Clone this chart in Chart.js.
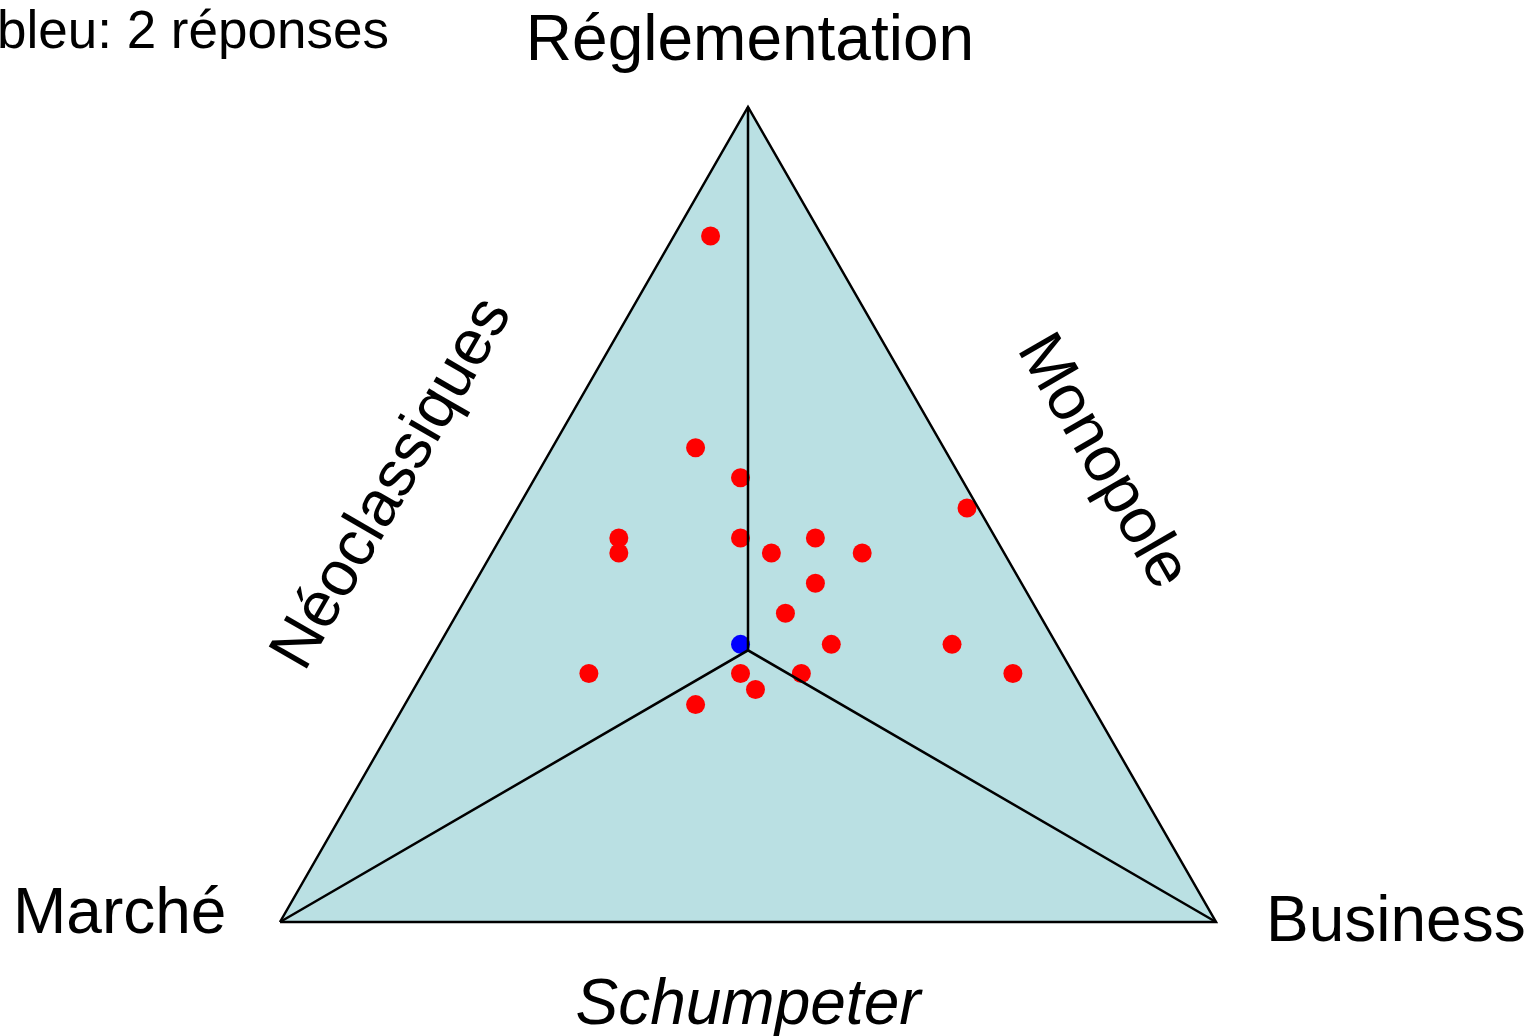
<!DOCTYPE html>
<html>
<head>
  <meta charset="UTF-8">
  <style>
    body { margin: 0; background: #fff; }
    #wrap { width: 1533px; height: 1036px; }
  </style>
  <script src="https://cdn.jsdelivr.net/npm/chart.js@4.4.0/dist/chart.umd.min.js"></script>
</head>
<body>
  <div id="wrap"><canvas id="myChart" width="1533" height="1036"></canvas></div>
  <script>
    // triangle: Marché (left), Business (right), Réglementation (top); x 0..100, y 0..86.6
    const vertices = [{x: 0, y: 0}, {x: 100, y: 0}, {x: 50, y: 86.6}];
    const center = {x: 50, y: 28.87};

    // answers
    const redX = [46.0, 44.4, 49.2, 73.4, 36.2, 36.2, 49.2, 52.5, 57.2, 62.2, 57.2, 54.0, 58.9, 71.8, 33.0, 49.2, 55.7, 78.3, 50.8, 44.4];
    const redY = [72.9, 50.4, 47.2, 44.0, 40.8, 39.2, 40.8, 39.2, 40.8, 39.2, 36.0, 32.8, 29.5, 29.5, 26.4, 26.4, 26.4, 26.4, 24.7, 23.1];
    const blueX = [49.2];
    const blueY = [29.5];

    const labels = {
      note: 'bleu: 2 réponses',
      top: 'Réglementation',
      left: 'Marché',
      right: 'Business',
      bottom: 'Schumpeter',
      leftSide: 'Néoclassiques',
      rightSide: 'Monopole'
    };

    function pts(xs, ys) {
      return xs.map(function(x, i) { return {x: x, y: ys[i]}; });
    }

    const closed = vertices.concat([vertices[0]]);

    const textPlugin = {
      id: 'texts',
      afterDraw: function(chart) {
        const ctx = chart.ctx;
        ctx.save();
        ctx.fillStyle = '#000';
        ctx.textBaseline = 'alphabetic';
        ctx.font = '53px "Liberation Sans", Arial, sans-serif';
        ctx.textAlign = 'left';
        ctx.fillText(labels.note, -3, 48);

        ctx.font = '64px "Liberation Sans", Arial, sans-serif';
        ctx.textAlign = 'center';
        ctx.fillText(labels.top, 750, 60);
        ctx.textAlign = 'left';
        ctx.fillText(labels.left, 13, 933);
        ctx.fillText(labels.right, 1266, 941);
        ctx.textAlign = 'center';
        ctx.font = 'italic 64px "Liberation Sans", Arial, sans-serif';
        ctx.fillText(labels.bottom, 748, 1024);

        ctx.font = '64px "Liberation Sans", Arial, sans-serif';
        ctx.textBaseline = 'middle';
        ctx.save();
        ctx.translate(393, 484);
        ctx.rotate(-Math.PI / 3);
        ctx.fillText(labels.leftSide, 0, 0);
        ctx.restore();
        ctx.save();
        ctx.translate(1102, 462);
        ctx.rotate(Math.PI / 3);
        ctx.fillText(labels.rightSide, 0, 0);
        ctx.restore();
        ctx.restore();
      }
    };

    const ctx = document.getElementById('myChart').getContext('2d');
    const chart = new Chart(ctx, {
      type: 'scatter',
      data: {
        datasets: [
          { // fill
            data: closed, showLine: true, fill: 'shape',
            backgroundColor: '#BAE0E3', borderWidth: 0, pointRadius: 0, order: 5
          },
          {
            data: pts(redX, redY), backgroundColor: '#FF0000', borderWidth: 0,
            pointRadius: 9.5, order: 3, clip: false
          },
          {
            data: pts(blueX, blueY), backgroundColor: '#0000FF', borderWidth: 0,
            pointRadius: 9.5, order: 2, clip: false
          },
          { // spokes
            data: [vertices[0], center, vertices[1]], showLine: true, fill: false,
            borderColor: '#000', borderWidth: 2.5, pointRadius: 0, order: 1, clip: false
          },
          {
            data: [center, vertices[2]], showLine: true, fill: false,
            borderColor: '#000', borderWidth: 2.5, pointRadius: 0, order: 1, clip: false
          },
          { // outline
            data: closed, showLine: true, fill: false,
            borderColor: '#000', borderWidth: 2.5, pointRadius: 0, order: 0, clip: false
          }
        ]
      },
      options: {
        responsive: false,
        animation: false,
        layout: { padding: { left: 280, right: 317, top: 107, bottom: 114 } },
        scales: {
          x: { type: 'linear', min: 0, max: 100, display: false },
          y: { type: 'linear', min: 0, max: 86.6, display: false }
        },
        plugins: {
          legend: { display: false },
          tooltip: { enabled: false }
        }
      },
      plugins: [textPlugin]
    });
  </script>
</body>
</html>
